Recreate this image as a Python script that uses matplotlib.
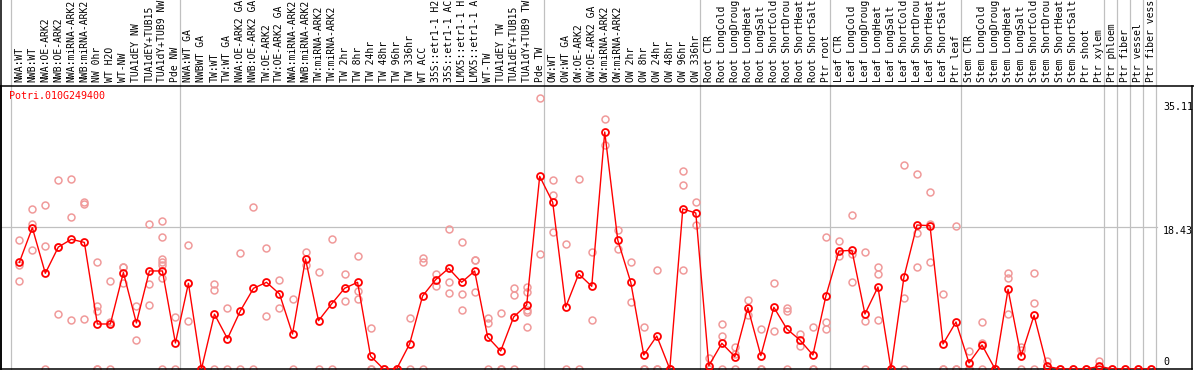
import matplotlib
matplotlib.use("Agg")
import matplotlib.pyplot as plt
from matplotlib.transforms import blended_transform_factory
from matplotlib.lines import Line2D

# sample labels, left to right
labels = [
    "NWA:WT", "NWB:WT", "NWA:OE-ARK2", "NWB:OE-ARK2", "NWA:miRNA-ARK2", "NWB:miRNA-ARK2",
    "NW 0hr", "WT H2O", "WT-NW", "TUA1dEY NW", "TUA1dEY+TUB15", "TUA1dY+TUB9 NW", "Pde NW",
    "NWA:WT GA", "NWBWT GA", "TW:WT", "TW:WT GA", "NWA:OE-ARK2 GA", "NWB:OE-ARK2 GA",
    "TW:OE-ARK2", "TW:OE-ARK2 GA", "NWA:miRNA-ARK2", "NWB:miRNA-ARK2", "TW:miRNA-ARK2",
    "TW:miRNA-ARK2", "TW 2hr", "TW 8hr", "TW 24hr", "TW 48hr", "TW 96hr", "TW 336hr",
    "WT ACC", "35S::etr1-1 H2", "35S::etr1-1 AC", "LMX5::etr1-1 H", "LMX5::etr1-1 A",
    "WT-TW", "TUA1dEY TW", "TUA1dEY+TUB15", "TUA1dY+TUB9 TW", "Pde TW",
    "OW:WT", "OW:WT GA", "OW:OE-ARK2", "OW:OE-ARK2 GA", "OW:miRNA-ARK2", "OW:miRNA-ARK2",
    "OW 2hr", "OW 8hr", "OW 24hr", "OW 48hr", "OW 96hr", "OW 336hr",
    "Root CTR", "Root LongCold", "Root LongDroug", "Root LongHeat", "Root LongSalt",
    "Root ShortCold", "Root ShortDrou", "Root ShortHeat", "Root ShortSalt", "Ptr root",
    "Leaf CTR", "Leaf LongCold", "Leaf LongDroug", "Leaf LongHeat", "Leaf LongSalt",
    "Leaf ShortCold", "Leaf ShortDrou", "Leaf ShortHeat", "Leaf ShortSalt", "Ptr leaf",
    "Stem CTR", "Stem LongCold", "Stem LongDroug", "Stem LongHeat", "Stem LongSalt",
    "Stem ShortCold", "Stem ShortDrou", "Stem ShortHeat", "Stem ShortSalt", "Ptr shoot",
    "Ptr xylem", "Ptr phloem", "Ptr fiber", "Ptr vessel", "Ptr fiber vess",
]

# index of the last sample in each group (grey separators)
group_ends = [-1, 12, 40, 52, 62, 72, 83, 84, 85, 86, 87]

# mean expression per sample
means = [
    13.8, 18.3, 12.4, 15.8, 16.8, 16.4, 5.83, 5.83, 12.5, 5.96, 12.7, 12.7, 3.37,
    11.1, 0, 7.1, 3.93, 7.56, 10.45, 11.23, 9.72, 4.53, 14.25, 6.26, 8.42, 10.45,
    11.23, 1.68, 0, 0, 3.24, 9.46, 11.57, 13.04, 11.23, 12.69, 4.15, 2.33, 6.74,
    8.29, 24.96,
    21.59, 8.03, 12.31, 10.71, 30.7, 16.71, 11.23, 1.81, 4.27, 0, 20.73, 20.21,
    0.43, 3.33, 1.6, 7.95, 1.73, 7.99, 5.18, 3.76, 1.81, 9.46,
    15.28, 15.37, 7.12, 10.62, 0, 11.92, 18.65, 18.57, 3.24, 6.09,
    0.78, 3.11, 0, 10.32, 1.68, 6.95, 0.35, 0, 0, 0, 0.35,
    0, 0, 0, 0,
]

# individual replicate values per sample
replicates = [
    [16.67, 13.47, 11.4], [20.73, 18.78, 15.37], [21.2, 15.89, 0], [24.44, 15.8, 7.12],
    [24.57, 19.65, 6.35], [21.59, 21.33, 6.48], [13.82, 8.16, 7.51, 0, 0], [11.4, 6.1, 0],
    [13.21, 13.2, 11.1], [8.16, 5.96, 3.76], [18.78, 10.97, 8.29],
    [19.17, 17.1, 14.25, 13.86, 13.47, 11.79, 0], [6.74, 0],
    [16.02, 11.1, 6.22], [0, 0, 0], [10.97, 10.19, 0], [7.86, 0], [15.03, 0], [20.98, 0],
    [15.67, 6.87], [11.53, 7.86], [9.07, 0], [15.11, 13.47], [12.56, 0], [16.84, 0],
    [12.26, 8.81], [14.59, 10.06, 9.02], [5.31, 0, 0], [0, 0], [0, 0], [6.56, 0],
    [14.33, 13.9, 0], [12.26, 10.71], [18.09, 11.23, 9.8], [16.41, 9.67, 7.64],
    [14.07, 14.07, 9.93], [6.56, 5.92, 0], [7.25, 0, 0], [10.45, 9.59, 0],
    [10.58, 9.93, 7.64, 7.34, 5.4], [35.06, 14.85],
    [24.44, 22.5, 17.7], [16.15, 0], [24.57, 0], [15.11, 6.35], [32.34, 28.97],
    [18.0, 15.5], [13.82, 8.68], [5.4, 0, 0], [12.78, 0, 0], [0, 0],
    [25.65, 23.79, 12.78], [21.63, 18.61],
    [1.47, 0, 0], [5.79, 4.23, 0], [2.85, 1.95, 0], [8.9, 6.99], [5.18, 0, 0],
    [11.1, 4.92], [7.86, 7.47, 0], [4.53, 2.94], [5.4, 0, 0], [17.1, 6.05, 5.18],
    [16.54, 14.59], [19.9, 14.85, 11.23], [15.11, 6.18, 0], [13.21, 12.26, 6.35],
    [0, 0], [26.38, 9.15, 0], [25.2, 17.57, 13.21], [22.88, 18.78, 13.82],
    [9.72, 0, 0], [18.48, 0, 0],
    [2.33, 0, 0], [6.09, 3.41, 0], [0, 0], [12.44, 11.74, 7.08], [2.89, 2.46, 0],
    [12.44, 8.51, 0], [1.04, 0, 0], [0], [0], [0], [1.04, 0, 0],
    [0], [0], [0], [0],
]

gene = "Potri.010G249400"
y_ticks = [35.11, 18.43, 0]
y_tick_labels = ["35.11", "18.43", "0"]

plt.rcParams['font.family'] = 'DejaVu Sans Mono'
W, H = 1194, 370
fig = plt.figure(figsize=(W / 100, H / 100), dpi=100)
ax = fig.add_axes([1 / W, 1 / H, 1191 / W, 283 / H])
ax.set_xlim(-1.407, 90.14)
ax.set_ylim(0, 36.66)
ax.set_xticks([])
ax.set_yticks([])
for s in ['left', 'top', 'bottom', 'right']:
    ax.spines[s].set_color('black')
    ax.spines[s].set_linewidth(1.1)
ax.spines['top'].set_visible(False)

# black header line and left border over the whole figure
fig.add_artist(Line2D([0, 1], [(370 - 85.5) / H] * 2, color='black', lw=1.1,
                      transform=fig.transFigure))
fig.add_artist(Line2D([1 / W, 1 / W], [0, 1], color='black', lw=1.1,
                      transform=fig.transFigure))

grey = '#c0c0c0'
for g in group_ends:
    ax.axvline(g + 0.35, ymin=0, ymax=369 / 283, color=grey, lw=0.9,
               clip_on=False, zorder=0)
ax.axhline(18.43, xmin=0, xmax=0.9705, color=grey, lw=0.9, zorder=0)

# replicate points
for i, reps in enumerate(replicates):
    ax.plot([i] * len(reps), reps, 'o', ms=5, mfc='none', mec='#f09a9a', mew=1.1, zorder=2)

# mean line
ax.plot(range(len(means)), means, '-o', color='red', lw=1.0, ms=5,
        mfc='none', mec='red', mew=1.3, zorder=3)

# header labels
tr = blended_transform_factory(ax.transData, ax.transAxes)
for i, lab in enumerate(labels):
    ax.text(i, 1 + 4 / 283, lab, rotation=90, ha='center', va='bottom',
            fontsize=7, transform=tr, clip_on=False)

ax.text(8 / 1191, 1 - 5 / 283, gene, color='red', fontsize=7.2,
        ha='left', va='top', transform=ax.transAxes)

tr_y = blended_transform_factory(ax.transAxes, ax.transData)
offsets = [-6.5, -3, 5]
for v, lab, off in zip(y_ticks, y_tick_labels, offsets):
    ax.annotate(lab, xy=((1163 - 1) / 1191, v), xycoords=tr_y,
                xytext=(0, off), textcoords='offset points',
                ha='left', va='center', fontsize=7.2)

fig.savefig("out.png", dpi=100)
